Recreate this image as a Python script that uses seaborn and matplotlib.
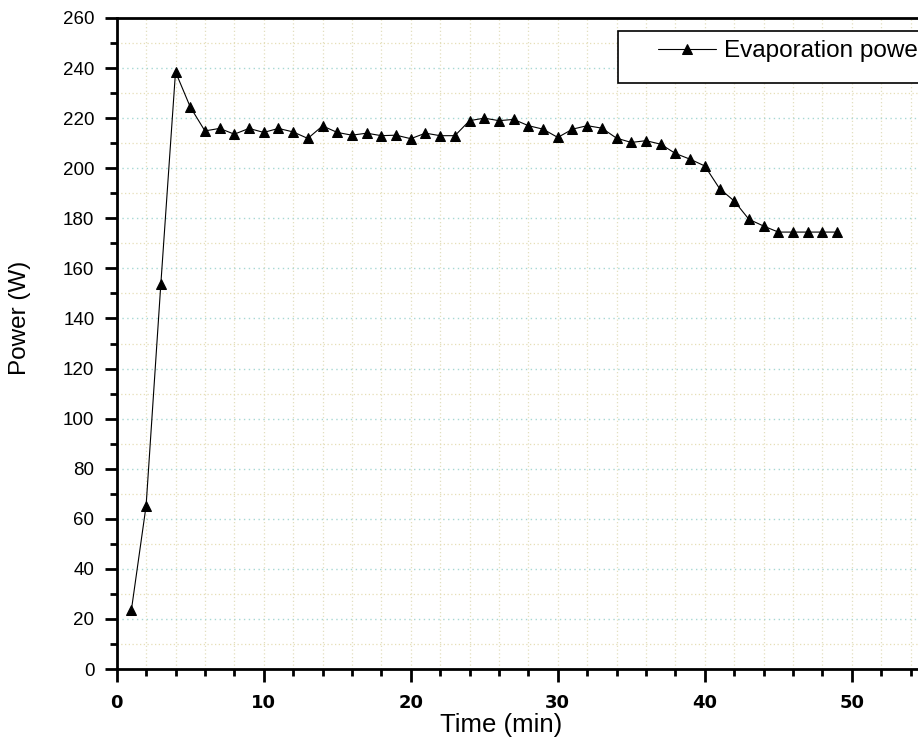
import numpy as np
import pandas as pd
import matplotlib
matplotlib.use("Agg")
import matplotlib.pyplot as plt
from matplotlib.ticker import MultipleLocator
from matplotlib.patches import Rectangle
import seaborn as sns

sns.set_style("ticks")
plt.rcParams['font.family'] = ['Liberation Sans', 'DejaVu Sans']
plt.rcParams['text.color'] = 'black'
plt.rcParams['axes.labelcolor'] = 'black'
plt.rcParams['xtick.color'] = 'black'
plt.rcParams['ytick.color'] = 'black'

# data
time_min = list(range(1, 50))
power_w = [23.6, 65.2, 153.6, 238.5, 224.5, 214.9, 215.9, 213.6, 215.9, 214.3,
           215.9, 214.5, 211.9, 216.9, 214.3, 213.2, 214.0, 213.0, 213.2, 211.8,
           214.0, 213.0, 213.0, 219.0, 220.0, 219.0, 219.5, 217.0, 215.6, 212.3,
           215.6, 217.0, 216.0, 212.0, 210.3, 211.0, 209.6, 205.9, 203.6, 200.9,
           191.9, 186.9, 179.6, 176.9, 174.5, 174.5, 174.5, 174.5, 174.5]
series_name = "Evaporation power"

df = pd.DataFrame({"Time": time_min, "Power": power_w})

W, H = 918, 746
fig = plt.figure(figsize=(W / 100, H / 100), dpi=100)
ax = fig.add_axes([116.7 / W, 77 / H, (W - 116.7) / W, 651 / H])

# grid
ax.xaxis.set_major_locator(MultipleLocator(10))
ax.xaxis.set_minor_locator(MultipleLocator(2))
ax.yaxis.set_major_locator(MultipleLocator(20))
ax.yaxis.set_minor_locator(MultipleLocator(10))
ax.grid(which='both', axis='x', color='#e2dfbf', linestyle=(0, (1, 2)), linewidth=0.9)
ax.grid(which='major', axis='y', color='#a6d8d4', linestyle=(0, (1, 2.5)), linewidth=1.0)
ax.grid(which='minor', axis='y', color='#e6dfb6', linestyle=(0, (1, 2)), linewidth=0.9)
ax.set_axisbelow(True)

sns.lineplot(data=df, x="Time", y="Power", ax=ax, color='black', linewidth=0.8,
             marker='^', markersize=7.5, markeredgecolor='black', label=series_name,
             legend=False)

ax.set_xlim(0, 54.5)
ax.set_ylim(0, 260)

for s in ['left', 'bottom', 'top']:
    ax.spines[s].set_linewidth(2.0)
    ax.spines[s].set_color('black')
ax.spines['right'].set_visible(False)

ax.tick_params(which='major', direction='out', length=9, width=2.0, pad=7)
ax.tick_params(which='minor', direction='out', length=5, width=2.0)
ax.tick_params(axis='y', which='major', labelsize=13.5)
ax.tick_params(axis='x', which='major', labelsize=13, pad=9)
for lab in ax.get_xticklabels():
    lab.set_fontfamily('DejaVu Sans')
    lab.set_fontweight('bold')

ax.set_xlabel("Time (min)", fontsize=18.5)
ax.set_ylabel("Power (W)", fontsize=17.5)
ax.xaxis.set_label_coords(501 / W, 1 - 713 / H, transform=fig.transFigure)
ax.yaxis.set_label_coords(31 / W, 1 - 318 / H, transform=fig.transFigure)

# legend with a separate frame (box runs off the right edge)
fig.patches.append(Rectangle((618 / W, 1 - 83 / H), 400 / W, 52 / H,
                             transform=fig.transFigure, facecolor='white',
                             edgecolor='black', linewidth=1.2, zorder=5))
handles, labels = ax.get_legend_handles_labels()
leg = fig.legend(handles, labels, loc='center left', frameon=False,
                 bbox_to_anchor=(641 / W, 1 - 51 / H), fontsize=17.5,
                 handlelength=2.4, handletextpad=0.3, borderpad=0.2)
leg.set_zorder(6)

fig.savefig("out.png", dpi=100)
